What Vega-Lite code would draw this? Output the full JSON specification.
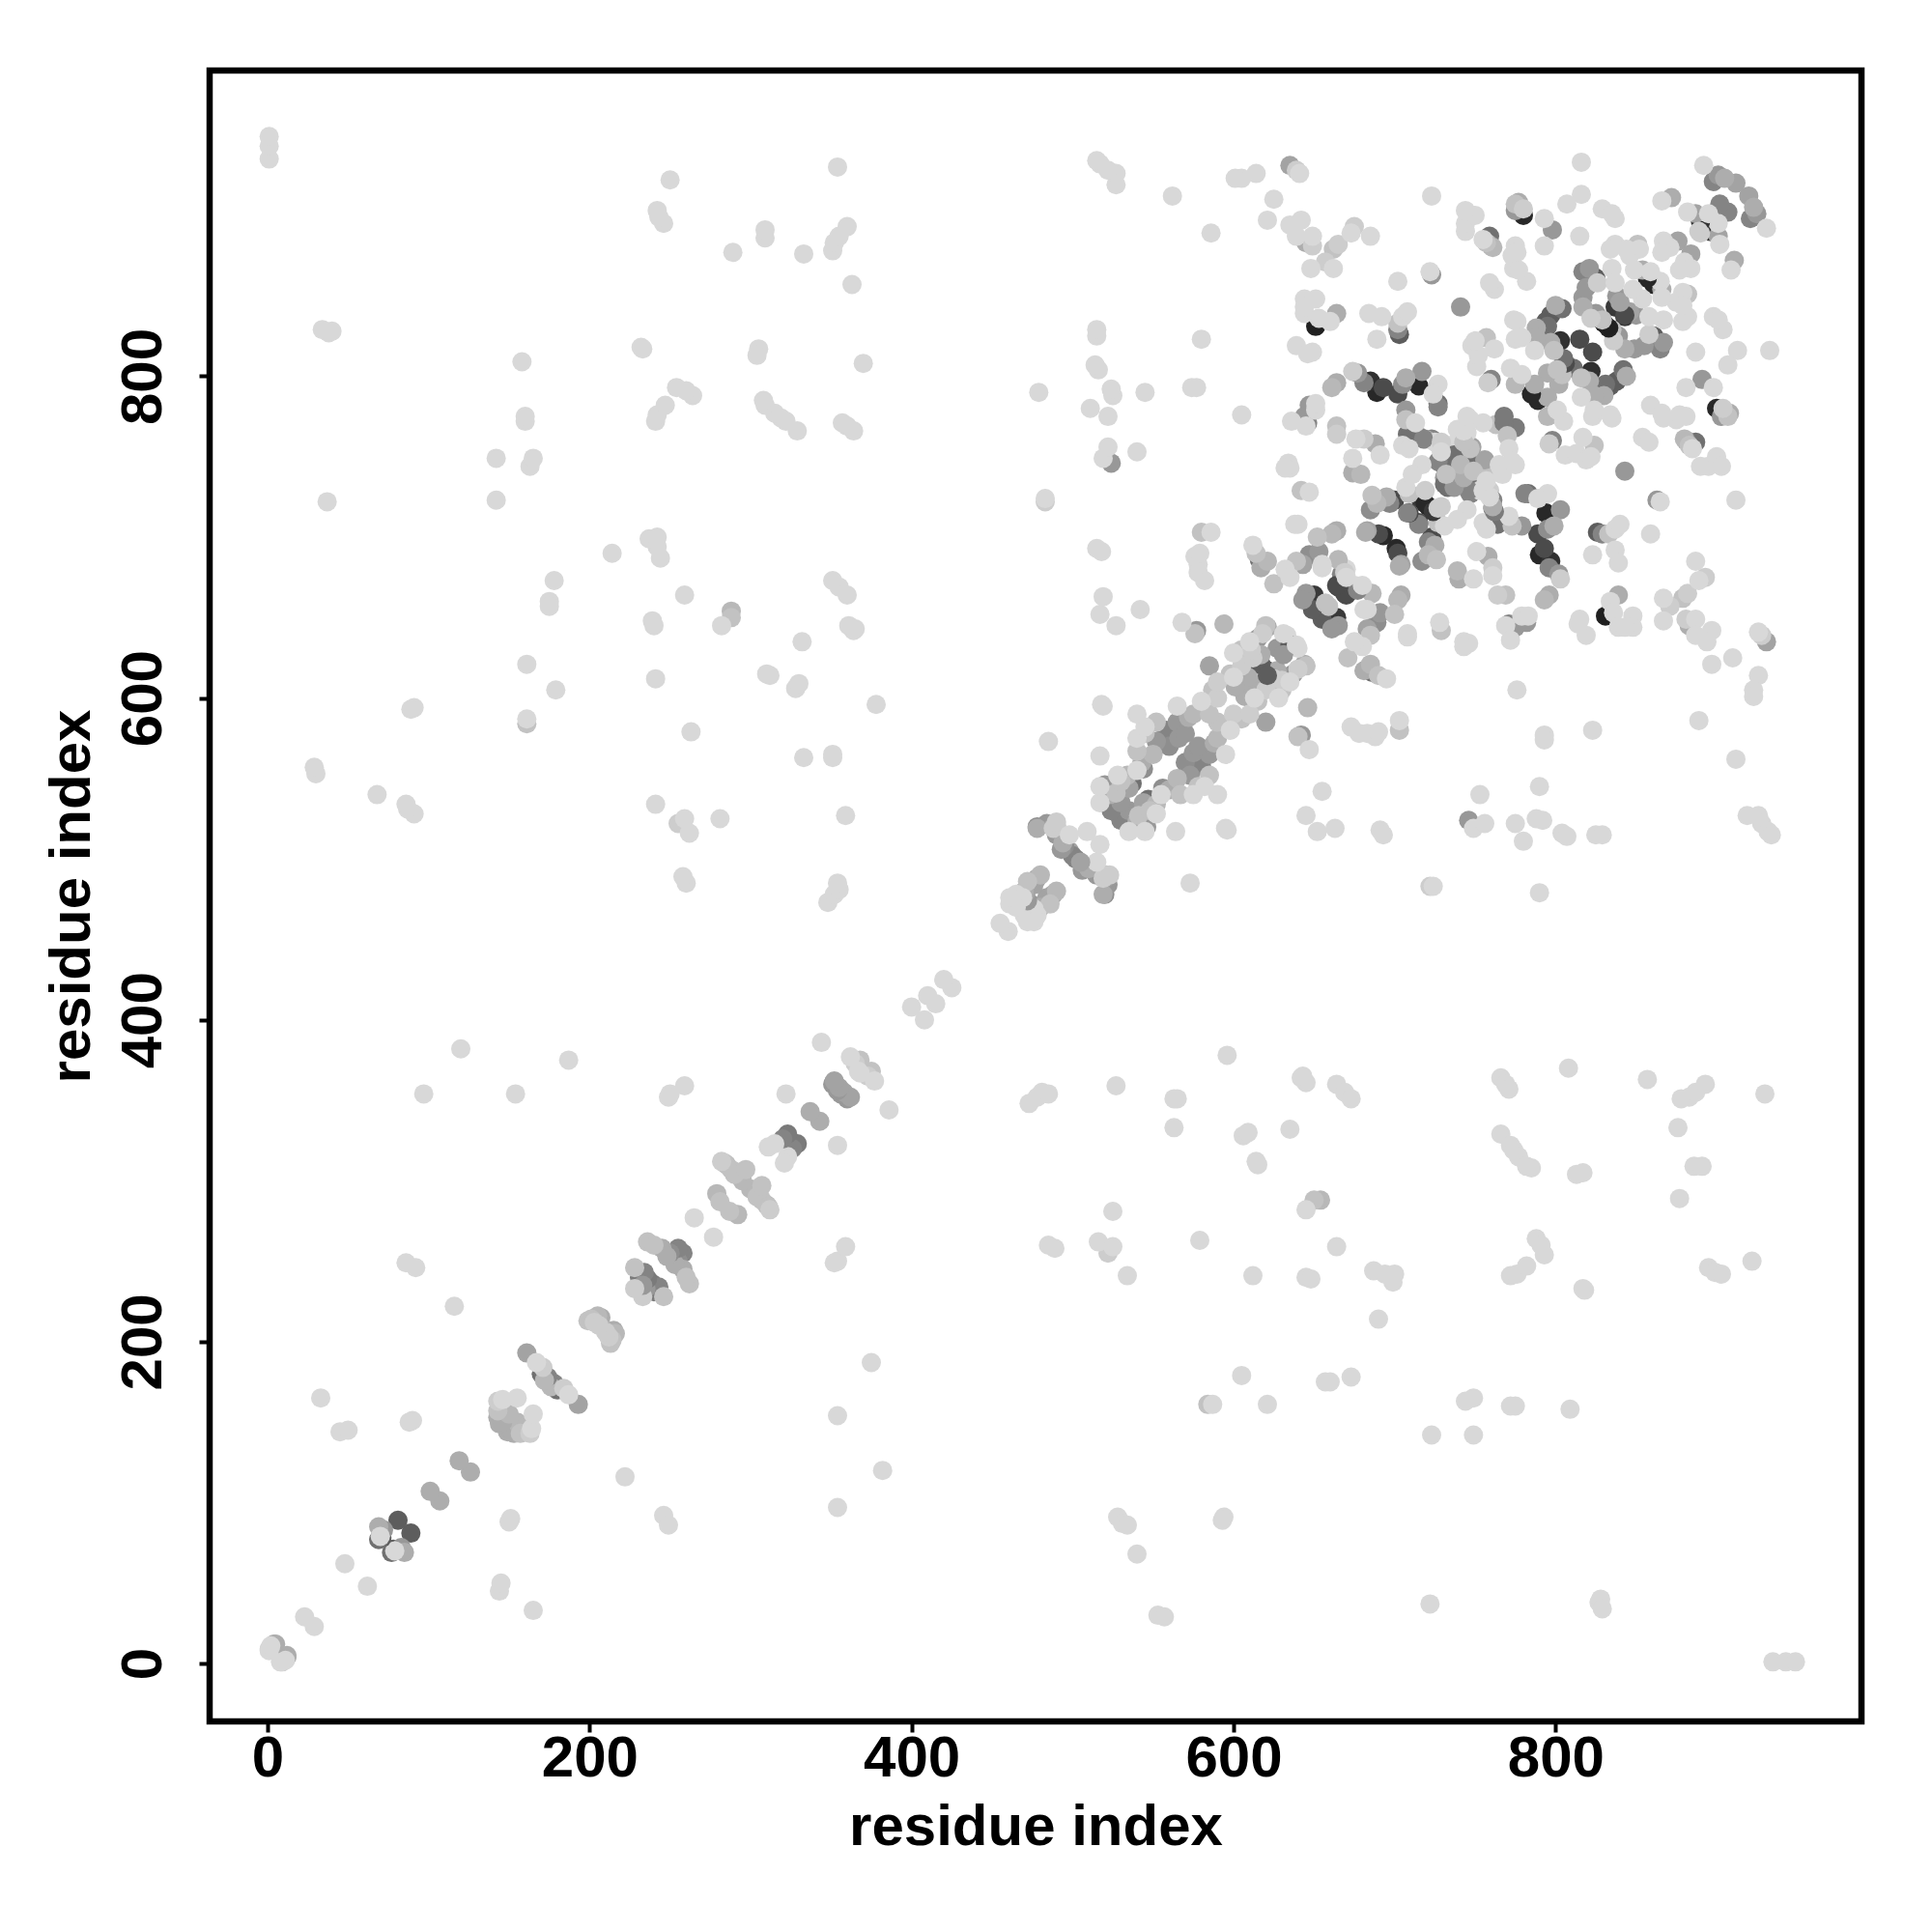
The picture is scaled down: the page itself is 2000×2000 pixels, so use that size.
{"$schema":"https://vega.github.io/schema/vega-lite/v6.json","width":1710,"height":1709,"autosize":{"type":"none"},"padding":{"left":217,"top":73,"right":73,"bottom":218},"background":"white","config":{"view":{"stroke":"black","strokeWidth":6.5},"axis":{"grid":false,"domain":false,"tickColor":"black","tickWidth":4,"tickSize":11,"labelFont":"Liberation Sans","labelFontWeight":"bold","labelFontSize":60,"labelColor":"black","titleFont":"Liberation Sans","titleFontWeight":"bold","titleFontSize":60,"titleColor":"black"}},"data":{"values":[
{"a":12,"b":5,"w":0.2},{"a":8,"b":1,"w":0},{"a":9,"b":1,"w":0.05},{"a":12,"b":4,"w":0.2},{"a":11,"b":2,"w":0},{"a":29,"b":23,"w":0},{"a":62,"b":48,"w":0},{"a":89,"b":81,"w":0.6},{"a":77,"b":69,"w":0.5},{"a":78,"b":71,"w":0.6},{"a":83,"b":72,"w":0.3},{"a":85,"b":69,"w":0.2},{"a":79,"b":70,"w":0},{"a":107,"b":101,"w":0.2},{"a":126,"b":119,"w":0.2},{"a":151,"b":90,"w":0},{"a":150,"b":88,"w":0},{"a":144,"b":45,"w":0},{"a":145,"b":50,"w":0},{"a":165,"b":33,"w":0},{"a":222,"b":116,"w":0},{"a":246,"b":92,"w":0},{"a":249,"b":86,"w":0},
{"a":935,"b":1,"w":0},{"a":943,"b":1,"w":0},{"a":949,"b":1,"w":0},{"a":827,"b":38,"w":0},{"a":828,"b":40,"w":0},{"a":829,"b":34,"w":0},{"a":722,"b":37,"w":0},{"a":553,"b":30,"w":0},{"a":557,"b":29,"w":0},{"a":540,"b":68,"w":0},{"a":528,"b":91,"w":0},{"a":531,"b":87,"w":0},{"a":534,"b":86,"w":0},{"a":594,"b":91,"w":0},{"a":593,"b":89,"w":0},{"a":723,"b":142,"w":0},{"a":749,"b":142,"w":0},{"a":744,"b":163,"w":0},{"a":749,"b":165,"w":0},{"a":772,"b":160,"w":0},{"a":775,"b":160,"w":0},{"a":809,"b":158,"w":0},{"a":584,"b":161,"w":0.1},{"a":587,"b":161,"w":0},{"a":621,"b":161,"w":0},{"a":605,"b":179,"w":0},{"a":660,"b":175,"w":0},{"a":657,"b":175,"w":0},{"a":673,"b":178,"w":0},{"a":690,"b":214,"w":0},{"a":612,"b":241,"w":0},{"a":645,"b":240,"w":0},{"a":648,"b":239,"w":0},{"a":687,"b":244,"w":0},{"a":694,"b":242,"w":0},{"a":699,"b":237,"w":0},{"a":700,"b":242,"w":0},{"a":772,"b":241,"w":0},{"a":776,"b":242,"w":0},{"a":782,"b":247,"w":0},{"a":788,"b":264,"w":0},{"a":791,"b":260,"w":0},{"a":793,"b":254,"w":0},{"a":817,"b":233,"w":0},{"a":818,"b":232,"w":0},{"a":817,"b":305,"w":0},{"a":813,"b":304,"w":0},{"a":895,"b":246,"w":0},{"a":899,"b":243,"w":0},{"a":903,"b":242,"w":0},{"a":922,"b":250,"w":0},{"a":664,"b":259,"w":0},{"a":579,"b":263,"w":0},{"a":516,"b":262,"w":0},{"a":525,"b":259,"w":0},{"a":522,"b":255,"w":0.05},{"a":534,"b":241,"w":0},{"a":525,"b":281,"w":0},{"a":485,"b":260,"w":0},{"a":489,"b":258,"w":0},{"a":645,"b":282,"w":0},{"a":650,"b":288,"w":0.1},{"a":654,"b":288,"w":0.15},{"a":563,"b":333,"w":0},{"a":565,"b":351,"w":0},{"a":563,"b":351,"w":0},{"a":614,"b":312,"w":0},{"a":615,"b":310,"w":0},{"a":606,"b":328,"w":0},{"a":609,"b":330,"w":0},{"a":635,"b":332,"w":0},{"a":527,"b":359,"w":0},{"a":596,"b":378,"w":0},{"a":473,"b":348,"w":0},{"a":478,"b":352,"w":0},{"a":481,"b":355,"w":0},{"a":485,"b":354,"w":0},{"a":642,"b":364,"w":0},{"a":645,"b":361,"w":0},{"a":643,"b":365,"w":0},{"a":664,"b":360,"w":0},{"a":669,"b":355,"w":0},{"a":673,"b":351,"w":0},{"a":808,"b":370,"w":0},{"a":857,"b":363,"w":0},{"a":766,"b":364,"w":0},{"a":769,"b":360,"w":0},{"a":771,"b":357,"w":0},{"a":766,"b":329,"w":0},{"a":772,"b":322,"w":0},{"a":774,"b":319,"w":0},{"a":777,"b":315,"w":0},{"a":782,"b":309,"w":0},{"a":785,"b":308,"w":0},{"a":876,"b":333,"w":0},{"a":878,"b":351,"w":0},{"a":883,"b":352,"w":0},{"a":887,"b":355,"w":0},{"a":893,"b":360,"w":0},{"a":930,"b":354,"w":0},{"a":877,"b":289,"w":0},{"a":886,"b":309,"w":0},{"a":891,"b":309,"w":0},
{"a":163,"b":143,"w":0.05},{"a":158,"b":145,"w":0.15},{"a":153,"b":143,"w":0.2},{"a":149,"b":144,"w":0.2},{"a":155,"b":150,"w":0.15},{"a":164,"b":146,"w":0},{"a":161,"b":148,"w":0.15},{"a":157,"b":143,"w":0.1},{"a":150,"b":146,"w":0.2},{"a":165,"b":155,"w":0},{"a":193,"b":161,"w":0.25},{"a":187,"b":167,"w":0},{"a":184,"b":171,"w":0.05},{"a":178,"b":174,"w":0.4},{"a":176,"b":172,"w":0.15},{"a":180,"b":170,"w":0.5},{"a":214,"b":201,"w":0.1},{"a":212,"b":203,"w":0.05},{"a":216,"b":205,"w":0.15},{"a":210,"b":206,"w":0.05},{"a":213,"b":199,"w":0.1},{"a":215,"b":207,"w":0.2},{"a":233,"b":228,"w":0.05},{"a":240,"b":231,"w":0.45},{"a":243,"b":234,"w":0.4},{"a":239,"b":236,"w":0.45},{"a":235,"b":233,"w":0.3},{"a":246,"b":228,"w":0.1},{"a":262,"b":236,"w":0.1},{"a":258,"b":245,"w":0.2},{"a":258,"b":255,"w":0.4},{"a":253,"b":248,"w":0.2},{"a":255,"b":250,"w":0.35},{"a":260,"b":240,"w":0.1},{"a":277,"b":265,"w":0},{"a":287,"b":281,"w":0.1},{"a":292,"b":279,"w":0.15},{"a":310,"b":285,"w":0.15},{"a":307,"b":288,"w":0.1},{"a":304,"b":290,"w":0.1},{"a":300,"b":295,"w":0.15},{"a":305,"b":292,"w":0.2},{"a":303,"b":293,"w":0.2},{"a":312,"b":282,"w":0.05},{"a":311,"b":284,"w":0.1},{"a":307,"b":297,"w":0.1},{"a":329,"b":323,"w":0.45},{"a":326,"b":320,"w":0.4},{"a":323,"b":315,"w":0},{"a":321,"b":311,"w":0},{"a":343,"b":337,"w":0.2},{"a":360,"b":351,"w":0.3},{"a":358,"b":355,"w":0.25},{"a":362,"b":352,"w":0.25},{"a":356,"b":354,"w":0.3},{"a":377,"b":362,"w":0},{"a":375,"b":368,"w":0.1},{"a":373,"b":365,"w":0.05},{"a":368,"b":367,"w":0},{"a":386,"b":344,"w":0},{"a":354,"b":322,"w":0},{"a":354,"b":250,"w":0},{"a":352,"b":249,"w":0},{"a":359,"b":259,"w":0},{"a":375,"b":187,"w":0},{"a":382,"b":120,"w":0},{"a":354,"b":154,"w":0},{"a":354,"b":97,"w":0},{"a":408,"b":400,"w":0},{"a":415,"b":410,"w":0},{"a":425,"b":420,"w":0},{"a":460,"b":455,"w":0},
{"a":478,"b":465,"w":0},{"a":472,"b":461,"w":0},{"a":476,"b":469,"w":0},{"a":474,"b":472,"w":0.3},{"a":480,"b":470,"w":0.2},{"a":470,"b":465,"w":0},{"a":488,"b":478,"w":0.25},{"a":484,"b":476,"w":0.25},{"a":486,"b":472,"w":0.1},{"a":479,"b":471,"w":0.25},{"a":490,"b":480,"w":0.15},{"a":476,"b":461,"w":0},{"a":520,"b":478,"w":0.35},{"a":522,"b":484,"w":0.3},{"a":520,"b":488,"w":0.25},{"a":515,"b":490,"w":0.3},{"a":508,"b":495,"w":0.35},{"a":502,"b":500,"w":0.4},{"a":506,"b":493,"w":0.3},{"a":510,"b":494,"w":0.2},{"a":498,"b":505,"w":0.25},{"a":519,"b":488,"w":0.05},{"a":521,"b":490,"w":0.1},{"a":519,"b":478,"w":0.2},{"a":523,"b":490,"w":0.05},{"a":517,"b":509,"w":0},{"a":535,"b":517,"w":0},{"a":515,"b":498,"w":0},{"a":564,"b":517,"w":0},{"a":595,"b":519,"w":0},{"a":573,"b":485,"w":0},{"a":545,"b":517,"w":0},{"a":596,"b":518,"w":0},
{"a":546,"b":520,"w":0.3},{"a":540,"b":523,"w":0.2},{"a":535,"b":530,"w":0.3},{"a":530,"b":524,"w":0.4},{"a":541,"b":527,"w":0.1},{"a":548,"b":530,"w":0.1},{"a":544,"b":535,"w":0.25},{"a":552,"b":528,"w":0},{"a":555,"b":540,"w":0},{"a":552,"b":534,"w":0.15},{"a":560,"b":543,"w":0.2},{"a":547,"b":537,"w":0.5},{"a":575,"b":540,"w":0},{"a":578,"b":545,"w":0.1},{"a":582,"b":545,"w":0},{"a":590,"b":540,"w":0},{"a":585,"b":552,"w":0.1},{"a":565,"b":550,"w":0.15},{"a":573,"b":552,"w":0.3},{"a":570,"b":560,"w":0.35},{"a":580,"b":558,"w":0.4},{"a":575,"b":566,"w":0.3},{"a":585,"b":565,"w":0.3},{"a":590,"b":575,"w":0.15},{"a":598,"b":580,"w":0},{"a":605,"b":587,"w":0.1},{"a":595,"b":565,"w":0},{"a":600,"b":590,"w":0.05},{"a":610,"b":590,"w":0.05},{"a":613,"b":600,"w":0},{"a":620,"b":605,"w":0.05},{"a":628,"b":600,"w":0},{"a":635,"b":610,"w":0},{"a":640,"b":618,"w":0.05},{"a":645,"b":620,"w":0.1},{"a":630,"b":605,"w":0.1},{"a":620,"b":585,"w":0.25},{"a":625,"b":612,"w":0.05},{"a":610,"b":605,"w":0.2},{"a":588,"b":572,"w":0.2},{"a":578,"b":570,"w":0.3},{"a":590,"b":585,"w":0.1},{"a":615,"b":598,"w":0.1},{"a":567,"b":540,"w":0.1},{"a":556,"b":544,"w":0.35},
{"a":637,"b":615,"w":0.3},{"a":644,"b":621,"w":0.2},{"a":640,"b":631,"w":0},{"a":633,"b":639,"w":0},{"a":621,"b":617,"w":0.6},{"a":627,"b":617,"w":0.2},{"a":614,"b":621,"w":0.6},{"a":630,"b":611,"w":0.05},{"a":613,"b":609,"w":0.2},{"a":607,"b":601,"w":0.2},{"a":627,"b":631,"w":0.3},{"a":633,"b":635,"w":0.6},
{"a":642,"b":577,"w":0.3},{"a":640,"b":576,"w":0.1},{"a":646,"b":594,"w":0.15},{"a":647,"b":568,"w":0},{"a":655,"b":542,"w":0},{"a":673,"b":582,"w":0},{"a":678,"b":578,"w":0},{"a":683,"b":578,"w":0},{"a":688,"b":576,"w":0},{"a":690,"b":579,"w":0},{"a":703,"b":586,"w":0},{"a":703,"b":580,"w":0.1},{"a":645,"b":527,"w":0},{"a":652,"b":517,"w":0},{"a":663,"b":519,"w":0},{"a":691,"b":518,"w":0},{"a":693,"b":515,"w":0},{"a":722,"b":483,"w":0.05},{"a":724,"b":483,"w":0},{"a":746,"b":524,"w":0.3},{"a":749,"b":519,"w":0},{"a":753,"b":540,"w":0},{"a":756,"b":522,"w":0},{"a":775,"b":522,"w":0},{"a":780,"b":511,"w":0},{"a":788,"b":525,"w":0},{"a":792,"b":524,"w":0},{"a":790,"b":545,"w":0},{"a":790,"b":479,"w":0},{"a":804,"b":516,"w":0},{"a":807,"b":514,"w":0},{"a":825,"b":515,"w":0},{"a":829,"b":515,"w":0},{"a":793,"b":577,"w":0},{"a":793,"b":574,"w":0},{"a":823,"b":580,"w":0},{"a":889,"b":586,"w":0},{"a":912,"b":562,"w":0},{"a":919,"b":527,"w":0},{"a":926,"b":527,"w":0},{"a":928,"b":522,"w":0},{"a":932,"b":517,"w":0},{"a":934,"b":515,"w":0},
{"a":701,"b":693,"w":0.9},{"a":702,"b":690,"w":0.7},{"a":704,"b":683,"w":0.25},{"a":703,"b":682,"w":0.2},{"a":717,"b":685,"w":0.35},{"a":721,"b":689,"w":0.15},{"a":726,"b":686,"w":0.1},{"a":739,"b":679,"w":0.15},{"a":740,"b":674,"w":0.2},{"a":749,"b":674,"w":0},{"a":751,"b":691,"w":0},{"a":758,"b":688,"w":0.2},{"a":761,"b":681,"w":0.05},{"a":761,"b":676,"w":0},{"a":764,"b":664,"w":0.05},{"a":769,"b":664,"w":0.1},{"a":704,"b":664,"w":0.2},{"a":702,"b":661,"w":0.15},{"a":700,"b":652,"w":0.1},{"a":683,"b":655,"w":0},{"a":691,"b":653,"w":0.3},{"a":689,"b":647,"w":0.35},{"a":683,"b":643,"w":0.25},{"a":685,"b":639,"w":0.1},{"a":708,"b":640,"w":0},{"a":708,"b":638,"w":0},{"a":728,"b":647,"w":0},{"a":729,"b":642,"w":0.1},{"a":743,"b":635,"w":0},{"a":746,"b":634,"w":0},{"a":743,"b":632,"w":0},{"a":776,"b":605,"w":0},{"a":686,"b":616,"w":0.5},{"a":681,"b":617,"w":0.2},{"a":685,"b":621,"w":0.15},{"a":690,"b":614,"w":0.1},{"a":695,"b":612,"w":0},{"a":671,"b":625,"w":0.1},{"a":680,"b":632,"w":0},{"a":675,"b":635,"w":0},{"a":664,"b":650,"w":0.8},{"a":655,"b":649,"w":0.6},{"a":665,"b":645,"w":0.3},{"a":659,"b":657,"w":0.1},{"a":661,"b":643,"w":0.3},{"a":670,"b":680,"w":0},{"a":667,"b":677,"w":0.4},{"a":665,"b":669,"w":0.7},{"a":670,"b":664,"w":0.7},{"a":678,"b":669,"w":0.05},{"a":686,"b":665,"w":0.15},{"a":681,"b":655,"w":0},{"a":675,"b":670,"w":0},
{"a":715,"b":708,"w":0.4},{"a":715,"b":709,"w":0.7},{"a":721,"b":697,"w":0.4},{"a":723,"b":700,"w":0.7},{"a":727,"b":709,"w":0.1},{"a":731,"b":707,"w":0},{"a":725,"b":695,"w":0.2},{"a":721,"b":719,"w":0.9},{"a":729,"b":719,"w":0.05},{"a":716,"b":724,"w":0.8},{"a":718,"b":727,"w":0.05},{"a":745,"b":717,"w":0},{"a":739,"b":711,"w":0},{"a":761,"b":718,"w":0.4},{"a":764,"b":708,"w":0.5},{"a":757,"b":705,"w":0},{"a":755,"b":709,"w":0},{"a":771,"b":713,"w":0},{"a":779,"b":707,"w":0.3},{"a":773,"b":707,"w":0.1},{"a":781,"b":727,"w":0.4},{"a":759,"b":729,"w":0.05},{"a":753,"b":729,"w":0},{"a":748,"b":756,"w":0.25},{"a":741,"b":749,"w":0.1},{"a":751,"b":747,"w":0.5},{"a":755,"b":747,"w":0.1},{"a":745,"b":741,"w":0.15},{"a":751,"b":737,"w":0.5},{"a":759,"b":743,"w":0.1},{"a":766,"b":743,"w":0},{"a":775,"b":745,"w":0},{"a":729,"b":746,"w":0.4},{"a":731,"b":737,"w":0.3},{"a":737,"b":743,"w":0.2},{"a":743,"b":732,"w":0.5},{"a":747,"b":727,"w":0.4},{"a":733,"b":731,"w":0.5},{"a":739,"b":732,"w":0.1},{"a":725,"b":759,"w":0},{"a":729,"b":755,"w":0},{"a":735,"b":757,"w":0},{"a":723,"b":761,"w":0.4},{"a":716,"b":762,"w":0.45},{"a":719,"b":761,"w":0.2},{"a":771,"b":768,"w":0.45},{"a":775,"b":768,"w":0.45},{"a":763,"b":770,"w":0.1},{"a":755,"b":771,"w":0},{"a":745,"b":765,"w":0},{"a":739,"b":767,"w":0},{"a":747,"b":773,"w":0},{"a":771,"b":646,"w":0.4},{"a":775,"b":644,"w":0.3},{"a":769,"b":645,"w":0},{"a":772,"b":636,"w":0},{"a":779,"b":651,"w":0},
{"a":798,"b":760,"w":0.4},{"a":796,"b":758,"w":0.05},{"a":806,"b":751,"w":0},{"a":813,"b":752,"w":0},{"a":817,"b":762,"w":0},{"a":819,"b":748,"w":0},{"a":822,"b":750,"w":0},{"a":824,"b":757,"w":0.1},{"a":854,"b":762,"w":0},{"a":858,"b":759,"w":0},{"a":843,"b":741,"w":0.3},{"a":863,"b":723,"w":0.3},{"a":865,"b":722,"w":0},{"a":912,"b":723,"w":0},{"a":859,"b":702,"w":0},{"a":880,"b":761,"w":0.15},{"a":881,"b":760,"w":0.3},{"a":883,"b":757,"w":0.1},{"a":885,"b":755,"w":0},{"a":887,"b":759,"w":0.5},{"a":890,"b":744,"w":0},{"a":895,"b":744,"w":0},{"a":900,"b":750,"w":0},{"a":903,"b":744,"w":0},{"a":903,"b":775,"w":0.3},{"a":907,"b":775,"w":0.1},{"a":875,"b":773,"w":0},{"a":867,"b":774,"w":0},{"a":881,"b":775,"w":0},{"a":805,"b":772,"w":0},{"a":835,"b":774,"w":0},{"a":823,"b":775,"w":0},{"a":795,"b":775,"w":0.15},{"a":783,"b":727,"w":0.5},{"a":795,"b":727,"w":0},{"a":789,"b":724,"w":0},{"a":794,"b":715,"w":0.9},{"a":803,"b":717,"w":0.3},{"a":799,"b":707,"w":0.2},{"a":795,"b":705,"w":0.35},{"a":789,"b":702,"w":0.7},{"a":793,"b":693,"w":0.7},{"a":790,"b":689,"w":0.9},{"a":796,"b":681,"w":0.4},{"a":797,"b":685,"w":0.85},{"a":802,"b":677,"w":0.3},{"a":803,"b":674,"w":0.05},{"a":796,"b":664,"w":0.2},{"a":793,"b":661,"w":0.15},{"a":783,"b":651,"w":0},{"a":782,"b":647,"w":0.3},{"a":826,"b":703,"w":0.6},{"a":829,"b":702,"w":0.4},{"a":833,"b":702,"w":0.1},{"a":837,"b":705,"w":0},{"a":840,"b":708,"w":0},{"a":823,"b":689,"w":0},{"a":837,"b":692,"w":0},{"a":839,"b":684,"w":0},{"a":831,"b":651,"w":0.95},{"a":839,"b":664,"w":0.2},{"a":834,"b":660,"w":0},{"a":836,"b":653,"w":0},{"a":839,"b":644,"w":0},{"a":848,"b":651,"w":0},{"a":848,"b":644,"w":0},{"a":843,"b":644,"w":0},{"a":815,"b":649,"w":0},{"a":819,"b":639,"w":0},{"a":814,"b":646,"w":0},{"a":887,"b":685,"w":0},{"a":893,"b":675,"w":0.05},{"a":889,"b":673,"w":0},{"a":882,"b":665,"w":0.05},{"a":879,"b":662,"w":0.1},{"a":867,"b":662,"w":0},{"a":871,"b":657,"w":0.05},{"a":867,"b":648,"w":0},{"a":881,"b":649,"w":0.05},{"a":883,"b":645,"w":0.2},{"a":887,"b":649,"w":0},{"a":887,"b":639,"w":0},{"a":897,"b":642,"w":0},{"a":894,"b":635,"w":0},{"a":897,"b":621,"w":0},{"a":910,"b":625,"w":0},{"a":926,"b":641,"w":0},{"a":928,"b":639,"w":0.05},{"a":931,"b":635,"w":0.25},{"a":926,"b":614,"w":0},{"a":923,"b":605,"w":0},{"a":923,"b":601,"w":0},
{"a":931,"b":892,"w":0},{"a":925,"b":901,"w":0.3},{"a":923,"b":905,"w":0.2},{"a":920,"b":912,"w":0.25},{"a":921,"b":898,"w":0.4},{"a":907,"b":902,"w":0.4},{"a":896,"b":890,"w":0.85},{"a":901,"b":895,"w":0},{"a":901,"b":887,"w":0.25},{"a":902,"b":882,"w":0},{"a":911,"b":872,"w":0.2},{"a":909,"b":866,"w":0},{"a":884,"b":876,"w":0.25},{"a":880,"b":871,"w":0},{"a":884,"b":867,"w":0},{"a":877,"b":866,"w":0},{"a":890,"b":889,"w":0.05},{"a":898,"b":837,"w":0},{"a":904,"b":829,"w":0},{"a":901,"b":835,"w":0},{"a":882,"b":837,"w":0},{"a":879,"b":834,"w":0},{"a":879,"b":852,"w":0},{"a":882,"b":851,"w":0.1},{"a":875,"b":846,"w":0},{"a":879,"b":844,"w":0},{"a":861,"b":857,"w":0.9},{"a":865,"b":859,"w":0},{"a":866,"b":854,"w":0.2},{"a":866,"b":849,"w":0},{"a":867,"b":835,"w":0},{"a":858,"b":837,"w":0},{"a":887,"b":815,"w":0},{"a":913,"b":816,"w":0},{"a":933,"b":816,"w":0},{"a":907,"b":807,"w":0},{"a":891,"b":798,"w":0.3},{"a":881,"b":793,"w":0},{"a":898,"b":793,"w":0},{"a":900,"b":780,"w":0.9},{"a":904,"b":780,"w":0.05},{"a":908,"b":777,"w":0.2},{"a":859,"b":782,"w":0},{"a":866,"b":777,"w":0},{"a":877,"b":776,"w":0},{"a":834,"b":776,"w":0},{"a":824,"b":779,"w":0},{"a":816,"b":787,"w":0},
{"a":830,"b":833,"w":0.95},{"a":835,"b":829,"w":0.1},{"a":839,"b":825,"w":0.3},{"a":836,"b":822,"w":0.05},{"a":843,"b":817,"w":0.2},{"a":849,"b":817,"w":0.3},{"a":855,"b":819,"w":0.3},{"a":858,"b":826,"w":0.05},{"a":861,"b":825,"w":0.6},{"a":865,"b":817,"w":0.4},{"a":867,"b":821,"w":0.3},{"a":838,"b":843,"w":0.7},{"a":854,"b":848,"w":0},{"a":843,"b":837,"w":0.8},{"a":846,"b":840,"w":0.25},{"a":850,"b":838,"w":0.3},{"a":823,"b":815,"w":0.7},{"a":808,"b":806,"w":0.7},{"a":811,"b":805,"w":0.5},{"a":822,"b":803,"w":0.85},{"a":816,"b":799,"w":0.1},{"a":821,"b":797,"w":0.2},{"a":828,"b":793,"w":0.95},{"a":831,"b":795,"w":0.5},{"a":834,"b":794,"w":0.6},{"a":838,"b":797,"w":0.6},{"a":842,"b":804,"w":0.5},{"a":844,"b":800,"w":0.2},{"a":830,"b":788,"w":0.2},{"a":824,"b":788,"w":0.2},{"a":804,"b":801,"w":0.1},{"a":802,"b":795,"w":0.2},{"a":789,"b":785,"w":0.9},{"a":795,"b":787,"w":0.2},{"a":801,"b":779,"w":0}
]},"encoding":{"color":{"field":"w","type":"quantitative","legend":null,"scale":{"domain":[0,1],"range":["#d8d8d8","#181818"]}},"order":{"field":"w","type":"quantitative","sort":"descending"}},"layer":[{"mark":{"type":"circle","size":400,"opacity":1},"encoding":{"x":{"field":"a","type":"quantitative","scale":{"domain":[-36,990],"nice":false,"zero":false},"axis":{"title":"residue index","values":[0,200,400,600,800],"labelPadding":-2,"titlePadding":12,"labelFlush":false,"labelOverlap":false}},"y":{"field":"b","type":"quantitative","scale":{"domain":[-36,990],"nice":false,"zero":false},"axis":{"title":"residue index","values":[0,200,400,600,800],"labelAngle":-90,"labelAlign":"center","labelBaseline":"bottom","labelPadding":27,"titlePadding":13,"labelFlush":false,"labelOverlap":false}}}},{"mark":{"type":"circle","size":400,"opacity":1},"encoding":{"x":{"field":"b","type":"quantitative","scale":{"domain":[-36,990],"nice":false,"zero":false},"axis":{"title":"residue index","values":[0,200,400,600,800],"labelPadding":-2,"titlePadding":12,"labelFlush":false,"labelOverlap":false}},"y":{"field":"a","type":"quantitative","scale":{"domain":[-36,990],"nice":false,"zero":false},"axis":{"title":"residue index","values":[0,200,400,600,800],"labelAngle":-90,"labelAlign":"center","labelBaseline":"bottom","labelPadding":27,"titlePadding":13,"labelFlush":false,"labelOverlap":false}}}}]}
